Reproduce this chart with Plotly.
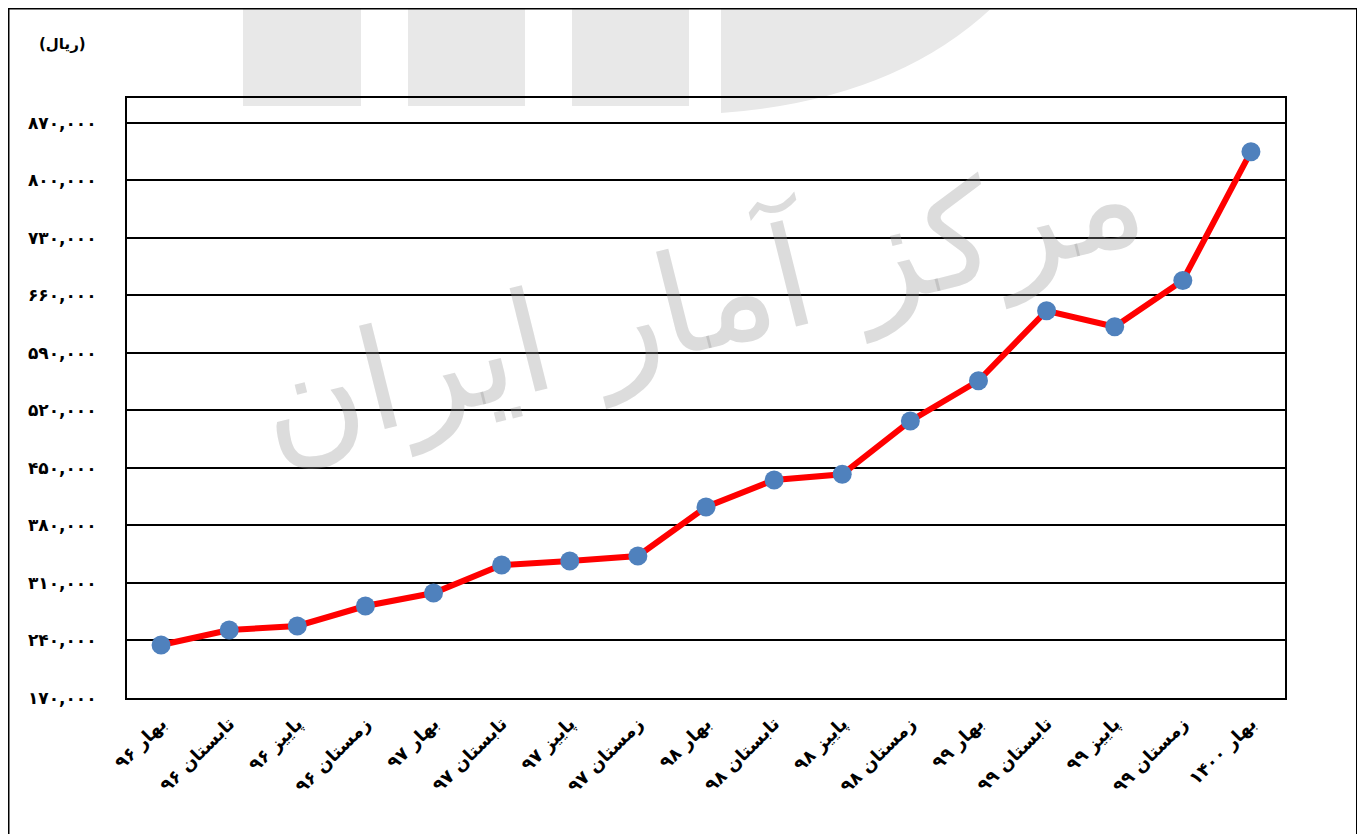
import plotly.graph_objects as go

categories = ["بهار ۹۶", "تابستان ۹۶", "پاییز ۹۶", "زمستان ۹۶",
              "بهار ۹۷", "تابستان ۹۷", "پاییز ۹۷", "زمستان ۹۷",
              "بهار ۹۸", "تابستان ۹۸", "پاییز ۹۸", "زمستان ۹۸",
              "بهار ۹۹", "تابستان ۹۹", "پاییز ۹۹", "زمستان ۹۹",
              "بهار ۱۴۰۰"]
values = [234500, 252700, 257600, 281900, 297750, 331800, 336700, 342800,
          402400, 435200, 442200, 507000, 556000, 641200, 621750, 678000,
          834700]
y_tickvals = [170000, 240000, 310000, 380000, 450000, 520000, 590000,
              660000, 730000, 800000, 870000]
y_ticktext = ["۱۷۰,۰۰۰", "۲۴۰,۰۰۰", "۳۱۰,۰۰۰", "۳۸۰,۰۰۰", "۴۵۰,۰۰۰",
              "۵۲۰,۰۰۰", "۵۹۰,۰۰۰", "۶۶۰,۰۰۰", "۷۳۰,۰۰۰", "۸۰۰,۰۰۰",
              "۸۷۰,۰۰۰"]
unit_label = "(ریال)"
watermark = "مرکز آمار ایران"

FONT = "DejaVu Sans"

fig = go.Figure()
fig.add_trace(go.Scatter(
    x=categories, y=values, mode="lines+markers",
    line=dict(color="#FF0000", width=6),
    marker=dict(color="#4F81BD", size=19),
    showlegend=False, hoverinfo="x+y",
))

# page has an 8px body margin: work in screen coordinates, shifted by OFF
OFF = 8
W, H = 1365 - OFF, 834 - OFF
L, T = 127 - OFF, 98 - OFF
R = W - (1285 - OFF)
B = H - (698 - OFF)
pw, ph = W - L - R, H - T - B


def px(x):
    return (x - OFF - L) / pw


def py(y):
    return (H - B - (y - OFF)) / ph


shapes = []
# watermark logo bars
for x0, x1 in [(243, 361), (408, 525), (572, 689)]:
    shapes.append(dict(type="rect", xref="paper", yref="paper",
                       x0=px(x0), x1=px(x1), y0=py(106), y1=py(0),
                       fillcolor="#E8E8E8", line=dict(width=0), layer="below"))
# curved part of logo
path = "M {a},{b} L {a},{c} Q {d},{e} {f},{g} Z".format(
    a=px(721), b=py(0), c=py(113), d=px(900), e=py(100), f=px(1000), g=py(0))
shapes.append(dict(type="path", xref="paper", yref="paper", path=path,
                   fillcolor="#E8E8E8", line=dict(width=0), layer="below"))
# outer border
shapes.append(dict(type="rect", xref="paper", yref="paper",
                   x0=px(8.5), x1=px(1357), y0=py(845), y1=py(8.5),
                   line=dict(color="#000000", width=2), fillcolor="rgba(0,0,0,0)",
                   layer="above"))

fig.update_layout(
    width=W, height=H,
    margin=dict(l=L, r=R, t=T, b=B, autoexpand=False),
    paper_bgcolor="white", plot_bgcolor="rgba(0,0,0,0)",
    shapes=shapes,
    xaxis=dict(
        type="category", range=[-0.5, len(categories) - 0.5],
        showgrid=False, showline=True, linecolor="#000000", linewidth=2,
        mirror=True, ticks="", tickangle=-45, ticklabelstandoff=6,
        tickfont=dict(family=FONT, size=18, color="#000000", weight="bold"),
        zeroline=False,
    ),
    yaxis=dict(
        range=[170000, 900000], tickvals=y_tickvals, ticktext=y_ticktext,
        showgrid=True, gridcolor="#000000", gridwidth=1.6,
        showline=True, linecolor="#000000", linewidth=2, mirror=True,
        ticks="", ticklabelstandoff=25, zeroline=False,
        tickfont=dict(family=FONT, size=17, color="#000000", weight="bold"),
    ),
    annotations=[
        dict(text=watermark, xref="paper", yref="paper",
             x=px(700), y=py(300), showarrow=False, textangle=-14,
             font=dict(family=FONT, size=140, color="rgba(150,150,150,0.33)")),
        dict(text=unit_label, xref="paper", yref="paper",
             x=px(62), y=py(44), xanchor="center", yanchor="middle",
             showarrow=False,
             font=dict(family=FONT, size=15, color="#000000", weight="bold")),
    ],
)

fig.write_html("out.html")
